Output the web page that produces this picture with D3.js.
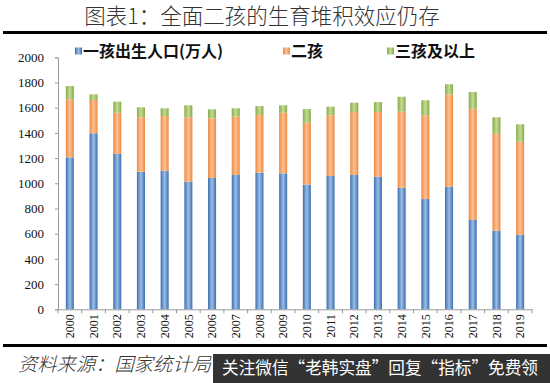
<!DOCTYPE html>
<html>
<head>
<meta charset="utf-8">
<script src="https://cdn.jsdelivr.net/npm/d3@7"></script>
<style>
  body { margin: 0; background: #fff; }
  svg { display: block; }
</style>
</head>
<body>
<svg id="chart"></svg>
<script>
const YEARS = ['2000', '2001', '2002', '2003', '2004', '2005', '2006', '2007', '2008', '2009',
    '2010', '2011', '2012', '2013', '2014', '2015', '2016', '2017', '2018', '2019']
const FIRST_CHILD = [1206, 1397, 1233, 1092, 1100, 1013, 1042, 1066, 1084, 1079,
    990, 1058, 1066, 1052, 965, 875, 973, 709, 624, 590]
const SECOND_CHILD = [461, 264, 327, 432, 434, 511, 474, 463, 458, 481,
    491, 482, 500, 514, 603, 665, 733, 883, 768, 740]
const THIRD_PLUS = [105, 45, 88, 79, 61, 95, 71, 66, 71, 59,
    108, 68, 74, 79, 119, 119, 80, 133, 132, 138]
const SERIES = ['一孩出生人口(万人)', '二孩', '三孩及以上']
const Y_TICKS = [0, 200, 400, 600, 800, 1000, 1200, 1400, 1600, 1800, 2000]

const width = 550
const height = 383
const colors = [
    { edge: '#3a6fb3', mid: '#9dbde3' },
    { edge: '#f08a3c', mid: '#fbc196' },
    { edge: '#86aa4a', mid: '#c4db94' }
]

const svg = d3.select('#chart')
    .attr('width', width)
    .attr('height', height)

// gradients to mimic the shaded bars
const defs = svg.append('defs')
colors.forEach((c, i) => {
    const g = defs.append('linearGradient')
        .attr('id', 'grad' + i)
        .attr('x1', '0%').attr('x2', '100%')
        .attr('y1', '0%').attr('y2', '0%')
    g.append('stop').attr('offset', '0%').attr('stop-color', c.edge)
    g.append('stop').attr('offset', '50%').attr('stop-color', c.mid)
    g.append('stop').attr('offset', '100%').attr('stop-color', c.edge)
})

// title + rules
svg.append('text')
    .attr('x', 262)
    .attr('y', 24)
    .attr('text-anchor', 'middle')
    .style('font-family', '"Noto Sans CJK SC", sans-serif')
    .style('font-size', '21.5px')
    .style('font-weight', '300')
    .style('fill', '#333')
    .text('图表1：全面二孩的生育堆积效应仍存')

svg.append('rect').attr('x', 3).attr('y', 31).attr('width', 544).attr('height', 3).attr('fill', '#000')
svg.append('rect').attr('x', 3).attr('y', 344).attr('width', 544).attr('height', 3).attr('fill', '#000')

const x = d3.scaleBand()
    .domain(YEARS)
    .range([58, 532])
    .paddingInner(0.66)
    .paddingOuter(0.33)

const y = d3.scaleLinear()
    .domain([0, 2000])
    .range([309.3, 57.3])

const data = YEARS.map((yr, i) => ({
    year: yr,
    first: FIRST_CHILD[i],
    second: SECOND_CHILD[i],
    third: THIRD_PLUS[i]
}))

const stack = d3.stack().keys(['first', 'second', 'third'])
const layers = stack(data)

svg.append('g')
    .selectAll('g')
    .data(layers)
    .enter().append('g')
    .attr('fill', (d, i) => `url(#grad${i})`)
    .selectAll('rect')
    .data(d => d)
    .enter().append('rect')
    .attr('x', d => x(d.data.year))
    .attr('width', x.bandwidth())
    .attr('y', d => y(d[1]))
    .attr('height', d => y(d[0]) - y(d[1]))

// y axis
const yAxis = svg.append('g')
    .attr('transform', 'translate(58,0)')
    .call(d3.axisLeft(y).tickValues(Y_TICKS).tickFormat(d3.format('d')).tickSize(3).tickPadding(11))
yAxis.select('.domain').attr('stroke', '#999')
yAxis.selectAll('.tick line').attr('stroke', '#999')
yAxis.selectAll('text')
    .style('font-family', '"Liberation Serif", serif')
    .style('font-size', '13px')
    .style('fill', '#111')

// x axis
const xAxis = svg.append('g')
    .attr('transform', `translate(0,${y(0)})`)
    .call(d3.axisBottom(x).tickSize(0))
xAxis.select('.domain').attr('stroke', '#999')
xAxis.selectAll('.tick text')
    .attr('transform', 'rotate(-90)')
    .attr('text-anchor', 'end')
    .attr('x', -5)
    .attr('y', 0)
    .attr('dy', '0.35em')
    .style('font-family', '"Liberation Serif", serif')
    .style('font-size', '12px')
    .style('fill', '#111')

// separator ticks between categories
svg.append('g')
    .selectAll('line')
    .data(d3.range(YEARS.length + 1))
    .enter().append('line')
    .attr('x1', i => 58 + i * x.step())
    .attr('x2', i => 58 + i * x.step())
    .attr('y1', y(0))
    .attr('y2', y(0) + 4)
    .attr('stroke', '#999')

// legend
const legendPos = [75, 283, 387]
const legend = svg.selectAll('.legend')
    .data(SERIES)
    .enter().append('g')
    .attr('class', 'legend')
    .attr('transform', (d, i) => `translate(${legendPos[i]},51)`)

legend.append('rect')
    .attr('x', 0)
    .attr('y', -3.5)
    .attr('width', 7)
    .attr('height', 7)
    .attr('fill', (d, i) => `url(#grad${i})`)

legend.append('text')
    .attr('x', 8)
    .attr('dy', '0.35em')
    .style('font-family', '"Noto Sans CJK SC", sans-serif')
    .style('font-size', '16px')
    .style('font-weight', 'bold')
    .style('fill', '#111')
    .text(d => d)

// source note (partly hidden behind the banner in the original)
svg.append('text')
    .attr('x', 18)
    .attr('y', 371)
    .attr('textLength', 193)
    .attr('lengthAdjust', 'spacingAndGlyphs')
    .style('font-family', '"Noto Sans CJK SC", sans-serif')
    .style('font-size', '19px')
    .style('font-style', 'italic')
    .style('font-weight', '300')
    .style('fill', '#333')
    .text('资料来源：国家统计局')

// overlay banner
svg.append('rect')
    .attr('x', 213)
    .attr('y', 354)
    .attr('width', 337)
    .attr('height', 29)
    .attr('fill', '#333')

svg.append('text')
    .attr('x', 222)
    .attr('y', 374)
    .attr('textLength', 316)
    .attr('lengthAdjust', 'spacingAndGlyphs')
    .style('font-family', '"Noto Sans CJK SC", sans-serif')
    .style('font-size', '17px')
    .style('fill', '#fff')
    .text('关注微信“老韩实盘”回复“指标”免费领')
</script>
</body>
</html>
